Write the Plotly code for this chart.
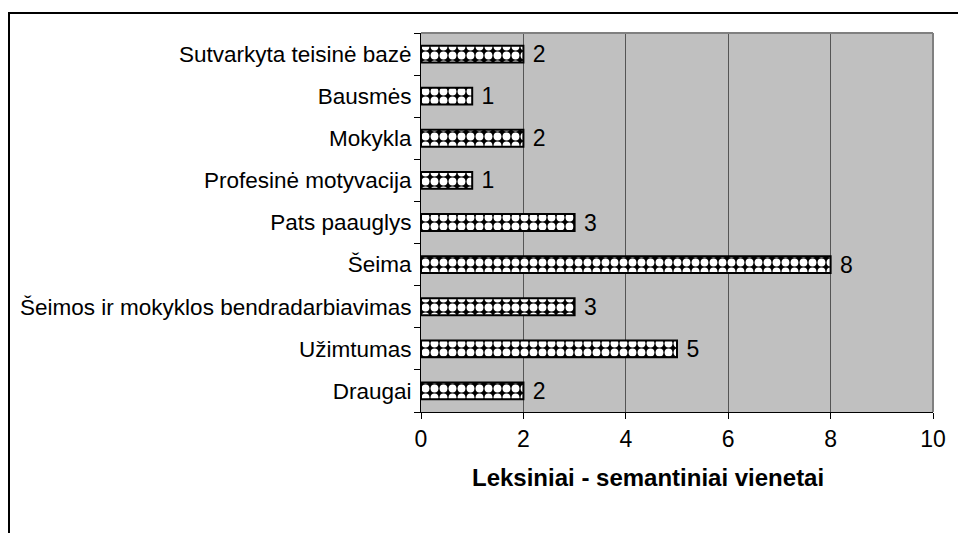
import plotly.graph_objects as go

# categories listed bottom to top, as drawn
categories = [
    "Draugai",
    "Užimtumas",
    "Šeimos ir mokyklos bendradarbiavimas",
    "Šeima",
    "Pats paauglys",
    "Profesinė motyvacija",
    "Mokykla",
    "Bausmės",
    "Sutvarkyta teisinė bazė",
]
counts = [2, 5, 3, 8, 3, 1, 2, 1, 2]
x_ticks = [0, 2, 4, 6, 8, 10]
x_title = "Leksiniai - semantiniai vienetai"

FONT = "Liberation Sans, Arial, sans-serif"

fig = go.Figure(
    go.Bar(
        x=counts,
        y=categories,
        orientation="h",
        width=0.4,
        texttemplate=" %{x}",
        textposition="outside",
        constraintext="none",
        cliponaxis=False,
        textfont=dict(family=FONT, size=23, color="black"),
        marker=dict(
            color="black",
            line=dict(color="black", width=2),
            pattern=dict(
                shape=".",
                fgcolor="white",
                fgopacity=1,
                bgcolor="black",
                size=9,
                solidity=0.6,
            ),
        ),
        hoverinfo="skip",
    )
)

fig.update_layout(
    width=958,
    height=533,
    margin=dict(l=421, r=25, t=33, b=121),
    paper_bgcolor="white",
    plot_bgcolor="#C0C0C0",
    showlegend=False,
    font=dict(family=FONT, color="black"),
)

fig.update_xaxes(
    range=[0, 10],
    tickvals=x_ticks,
    showgrid=True,
    gridcolor="#555555",
    gridwidth=1,
    zeroline=False,
    showline=True,
    linecolor="black",
    linewidth=1,
    ticks="outside",
    ticklen=6,
    tickcolor="black",
    tickfont=dict(size=23),
)

fig.update_yaxes(
    type="category",
    categoryorder="array",
    categoryarray=categories,
    tickson="boundaries",
    ticks="outside",
    ticklen=6,
    tickcolor="black",
    showline=True,
    linecolor="black",
    linewidth=1,
    showgrid=False,
    tickfont=dict(size=22.5),
    ticklabelstandoff=4,
)

# gray border on the top and right of the plot area
fig.add_shape(type="line", xref="paper", yref="paper", x0=0, x1=1, y0=1, y1=1,
              line=dict(color="#808080", width=2))
fig.add_shape(type="line", xref="paper", yref="paper", x0=1, x1=1, y0=0, y1=1,
              line=dict(color="#808080", width=2))

# outer chart frame (cut off at right and bottom)
fig.add_shape(type="rect", xref="paper", yref="paper",
              x0=(9 - 421) / 512, x1=(970 - 421) / 512,
              y0=(412 - 545) / 379, y1=(412 - 13) / 379,
              line=dict(color="black", width=2), layer="below")

fig.add_annotation(
    text="<b>" + x_title + "</b>",
    xref="paper", yref="paper",
    x=(648 - 421) / 512, y=(412 - 493) / 379,
    showarrow=False,
    font=dict(family=FONT, size=24, color="black"),
)

fig.write_html(
    "out.html",
    config={"displayModeBar": False},
    post_script="document.body.style.margin='0px';",
)
